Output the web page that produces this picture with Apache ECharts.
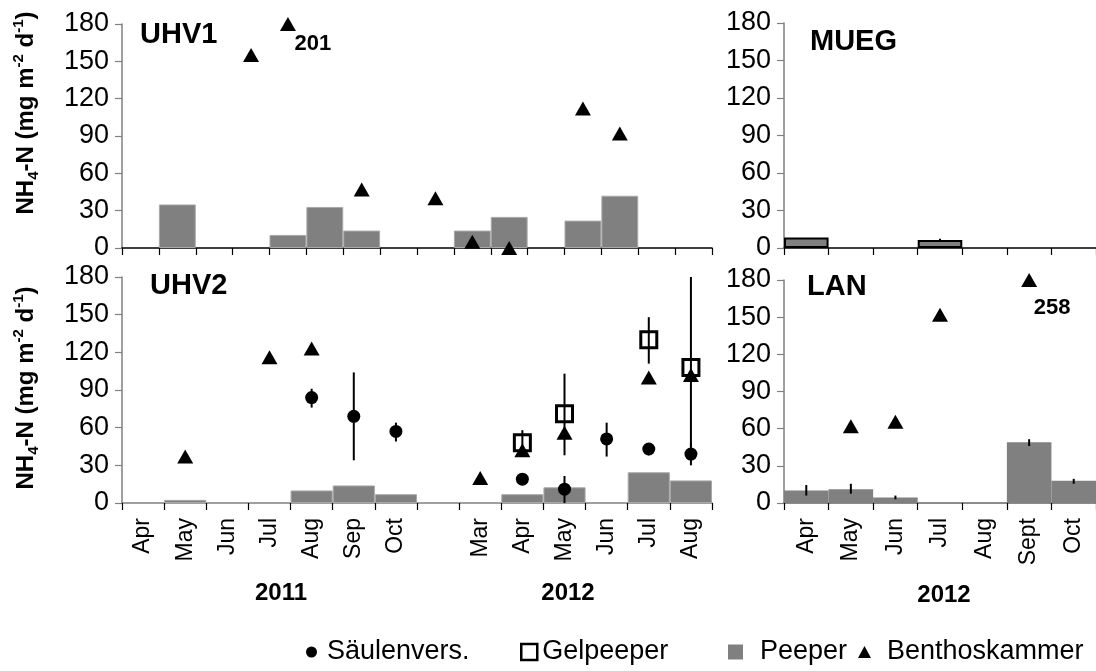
<!DOCTYPE html>
<html><head><meta charset="utf-8">
<script src="https://cdn.jsdelivr.net/npm/echarts@6/dist/echarts.min.js"></script>
<style>html,body{margin:0;padding:0;background:#fff}#c{width:1096px;height:671px}</style>
</head><body><div id="c"></div>
<script>
const YMAX = 180;
const yTicks = [0, 30, 60, 90, 120, 150, 180];

// UHV1 (top-left): 16 unlabelled sampling slots
const uhv1Cats = ['t1','t2','t3','t4','t5','t6','t7','t8','t9','t10','t11','t12','t13','t14','t15','t16'];
const uhv1Peeper = [null, 35, null, null, 10.5, 33, 14, null, null, 14, 25, null, 22, 42, null, null];
const uhv1Bentho = [null, null, null, 155, 201, null, 47, null, 40, 5, 0, null, 112, 92, null, null];

// UHV2 (bottom-left)
const uhv2Cats = ['Apr','May','Jun','Jul','Aug','Sep','Oct','','Mar','Apr','May','Jun','Jul','Aug'];
const uhv2Peeper = [null, 2.5, null, null, 10, 14, 7, null, null, 7, 12.5, null, 24.5, 18];
const uhv2Bentho = [null, 37, null, 116, 123, null, null, null, 20, 42, 56, null, 100, 102];
const uhv2Saulen   = [null, null, null, null, 84, 69, 57, null, null, 19, 11, 51, 43, 39];
const uhv2SaulenLo = [null, null, null, null, 76, 34, 49, null, null, null, 0, 37, 38, 30];
const uhv2SaulenHi = [null, null, null, null, 91, 104, 64, null, null, null, 21.5, 64, 46, 48];
const uhv2Gel   = [null, null, null, null, null, null, null, null, null, 48, 71, null, 130, 108];
const uhv2GelLo = [null, null, null, null, null, null, null, null, null, 42, 38, null, 111, 45];
const uhv2GelHi = [null, null, null, null, null, null, null, null, null, 58, 103, null, 148, 180];

// MUEG / LAN (right)
const rightCats = ['Apr','May','Jun','Jul','Aug','Sept','Oct'];
const muegPeeper   = [8.5, null, null, 6.5, null, null, null];
const muegPeeperLo = [null, null, null, 5, null, null, null];
const muegPeeperHi = [null, null, null, 7.5, null, null, null];
const lanPeeper   = [10, 11, 4.5, null, null, 49, 18];
const lanPeeperLo = [6, 7.5, 3, null, null, 46, 15.5];
const lanPeeperHi = [14.5, 15.5, 6, null, null, 51.5, 19.5];
const lanBentho = [null, 62, 65.5, 152, null, 258, null];

const FONT = 'Liberation Sans, Arial, sans-serif';

function pts(arr) {
  const out = [];
  arr.forEach((v, i) => { if (v != null) out.push([i, Math.min(v, YMAX), v]); });
  return out;
}
function errs(lo, hi) {
  const out = [];
  lo.forEach((v, i) => { if (v != null && hi[i] != null) out.push([i, v, hi[i]]); });
  return out;
}
function errRender(params, api) {
  const a = api.coord([api.value(0), api.value(1)]);
  const b = api.coord([api.value(0), api.value(2)]);
  return { type: 'line', shape: { x1: a[0], y1: a[1], x2: b[0], y2: b[1] },
           style: { stroke: '#000', lineWidth: 2 } };
}

const grids = [
  { left: 122, top: 24, width: 590, height: 224 },
  { left: 122, top: 277, width: 590, height: 226 },
  { left: 784, top: 23, width: 313, height: 225 },
  { left: 784, top: 280, width: 313, height: 223 }
];

function xAx(idx, cats, showLabels, lineColor) {
  return {
    type: 'category', gridIndex: idx, data: cats, boundaryGap: true,
    axisLine: { show: true, lineStyle: { color: lineColor, width: 1.5 } },
    axisTick: { show: true, interval: 0, length: 7, inside: false, lineStyle: { color: '#000', width: 1.2 } },
    axisLabel: { show: showLabels, interval: 0, rotate: 90, fontSize: 23, color: '#000', fontFamily: FONT, margin: 15 },
    splitLine: { show: false }
  };
}
function yAx(idx) {
  return {
    type: 'value', gridIndex: idx, min: yTicks[0], max: yTicks[yTicks.length - 1], interval: 30,
    axisLine: { show: true, lineStyle: { color: '#808080', width: 1.5 } },
    axisTick: { show: true, length: 7, lineStyle: { color: '#808080', width: 1.2 } },
    axisLabel: { fontSize: 27, color: '#000', fontFamily: FONT, margin: 13 },
    splitLine: { show: false }
  };
}

function barS(idx, data, style) {
  return { name: 'Peeper', type: 'bar', xAxisIndex: idx, yAxisIndex: idx, data: data,
           barCategoryGap: '0%', itemStyle: style, z: 1, silent: true };
}
function errS(idx, data, name) {
  return { name: name, type: 'custom', xAxisIndex: idx, yAxisIndex: idx, data: data,
           encode: { x: 0, y: [1, 2] }, renderItem: errRender, z: 3, silent: true };
}
function triS(idx, data, labelOffset) {
  return { name: 'Benthoskammer', type: 'scatter', xAxisIndex: idx, yAxisIndex: idx, data: data,
           symbol: 'triangle', symbolSize: [16, 14], itemStyle: { color: '#000', opacity: 1 }, clip: false, z: 5,
           label: { show: true, position: 'inside', offset: labelOffset, fontSize: 22, fontWeight: 'bold',
                    color: '#000', opacity: 1, fontFamily: FONT,
                    formatter: p => (p.value[2] > YMAX ? String(p.value[2]) : '') },
           silent: true };
}

const barGray = { color: '#808080', borderColor: '#a8a8a8', borderWidth: 1 };

const series = [
  barS(0, uhv1Peeper, barGray),
  triS(0, pts(uhv1Bentho), [25, 20]),

  barS(1, uhv2Peeper, barGray),
  errS(1, errs(uhv2SaulenLo, uhv2SaulenHi), 'Säulenvers.'),
  errS(1, errs(uhv2GelLo, uhv2GelHi), 'Gelpeeper'),
  { name: 'Säulenvers.', type: 'scatter', xAxisIndex: 1, yAxisIndex: 1, data: pts(uhv2Saulen),
    symbol: 'circle', symbolSize: 13, itemStyle: { color: '#000', opacity: 1 }, clip: false, z: 5, silent: true },
  { name: 'Gelpeeper', type: 'scatter', xAxisIndex: 1, yAxisIndex: 1, data: pts(uhv2Gel),
    symbol: 'rect', symbolSize: 16, itemStyle: { color: 'rgba(0,0,0,0)', borderColor: '#000', borderWidth: 3, opacity: 1 },
    clip: false, z: 6, silent: true },
  triS(1, pts(uhv2Bentho), [0, 0]),

  barS(2, muegPeeper, { color: '#808080', borderColor: '#000', borderWidth: 2 }),
  errS(2, errs(muegPeeperLo, muegPeeperHi), 'Peeper'),

  barS(3, lanPeeper, { color: '#808080' }),
  errS(3, errs(lanPeeperLo, lanPeeperHi), 'Peeper'),
  triS(3, pts(lanBentho), [23, 28])
];

const legendText = { fontSize: 27, color: '#000', fontFamily: FONT, lineHeight: 30 };
function leg(left, item, w, h, padLeft) {
  return { left: left, top: 637, orient: 'horizontal', padding: 0, itemWidth: w, itemHeight: h,
           selectedMode: false, data: [item],
           textStyle: Object.assign({ padding: [0, 0, 0, padLeft] }, legendText) };
}

const ylabText = '{b|NH}{sub|4}{b|-N (mg m}{sup|-2}{b| d}{sup|-1}{b|)}';
const ylabRich = {
  b: { fontSize: 24, fontWeight: 'bold', fontFamily: FONT, fill: '#000', lineHeight: 30 },
  sub: { fontSize: 15, fontWeight: 'bold', fontFamily: FONT, fill: '#000', verticalAlign: 'bottom', lineHeight: 16 },
  sup: { fontSize: 15, fontWeight: 'bold', fontFamily: FONT, fill: '#000', verticalAlign: 'top', lineHeight: 16 }
};
function ylab(y) {
  return { type: 'text', x: 26, y: y, rotation: Math.PI / 2,
           style: { text: ylabText, rich: ylabRich, align: 'center', verticalAlign: 'middle' } };
}
function yearLab(x, y, t) {
  return { type: 'text', x: x, y: y,
           style: { text: t, fontSize: 24, fontWeight: 'bold', fontFamily: FONT, fill: '#000',
                    align: 'center', verticalAlign: 'middle' } };
}
const titleStyle = { fontSize: 29, fontWeight: 'bold', color: '#000', fontFamily: FONT };

const option = {
  animation: false,
  backgroundColor: '#fff',
  title: [
    { text: 'UHV1', left: 140, top: 20, padding: 0, textStyle: titleStyle },
    { text: 'MUEG', left: 810, top: 27, padding: 0, textStyle: titleStyle },
    { text: 'UHV2', left: 150, top: 271, padding: 0, textStyle: titleStyle },
    { text: 'LAN', left: 807, top: 272, padding: 0, textStyle: titleStyle }
  ],
  grid: grids,
  xAxis: [
    xAx(0, uhv1Cats, false, '#000'),
    xAx(1, uhv2Cats, true, '#808080'),
    xAx(2, rightCats, false, '#000'),
    xAx(3, rightCats, true, '#666')
  ],
  yAxis: [yAx(0), yAx(1), yAx(2), yAx(3)],
  legend: [
    leg(306, { name: 'Säulenvers.', icon: 'circle', itemStyle: { color: '#000', opacity: 1 } }, 11, 11, 5),
    leg(520, { name: 'Gelpeeper', icon: 'rect', itemStyle: { color: 'rgba(0,0,0,0)', borderColor: '#000', borderWidth: 2.5, opacity: 1 } }, 16, 16, 0),
    leg(728, { name: 'Peeper', icon: 'rect', itemStyle: { color: '#808080', borderWidth: 0, opacity: 1 } }, 15, 15, 12),
    leg(858, { name: 'Benthoskammer', icon: 'triangle', itemStyle: { color: '#000', opacity: 1 } }, 13, 12, 11)
  ],
  graphic: [
    ylab(113), ylab(388),
    yearLab(281, 593, '2011'), yearLab(568, 593, '2012'), yearLab(944, 595, '2012')
  ],
  series: series
};

const chart = echarts.init(document.getElementById('c'), null, { renderer: 'canvas' });
chart.setOption(option);
</script>
</body></html>
